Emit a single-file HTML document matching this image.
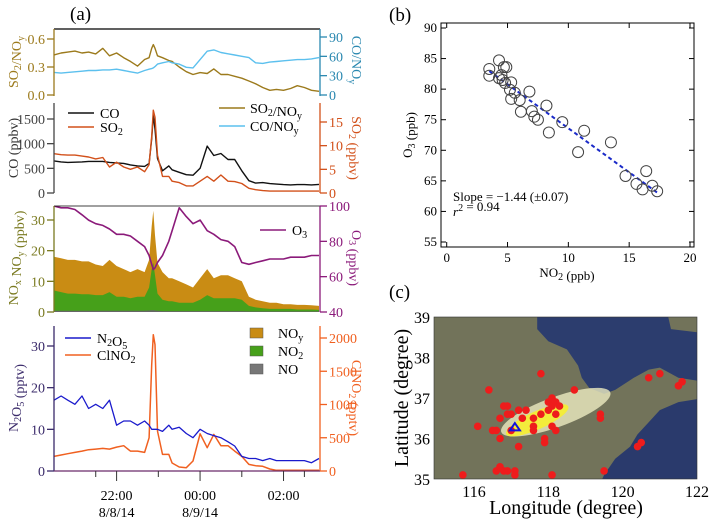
<!DOCTYPE html>
<html><head><meta charset="utf-8"><style>
body{margin:0;background:#fff}
svg{display:block;font-family:"Liberation Serif",serif}
</style></head><body>
<svg id="fig" width="712" height="523" viewBox="0 0 712 523" xmlns="http://www.w3.org/2000/svg">
<g id="pa"></g>
<g id="pb"></g>
<g id="pc"></g>
</svg>
<script>
// ---- Panel (a) data ----
const times=[20.5,20.67,20.83,21.0,21.17,21.33,21.5,21.67,21.83,22.0,22.17,22.33,22.5,22.67,22.78,22.84,22.88,22.92,22.98,23.1,23.25,23.33,23.5,23.67,23.83,24.0,24.17,24.33,24.5,24.67,24.83,25.0,25.17,25.33,25.5,25.67,25.83,26.0,26.17,26.33,26.5,26.67,26.85];
const so2noy=[0.43,0.45,0.46,0.47,0.45,0.46,0.44,0.50,0.42,0.45,0.40,0.36,0.31,0.38,0.40,0.50,0.54,0.50,0.42,0.40,0.37,0.36,0.30,0.25,0.22,0.24,0.23,0.28,0.22,0.22,0.20,0.18,0.15,0.12,0.08,0.05,0.06,0.05,0.07,0.10,0.08,0.05,0.04];
const conoy=[35,34,35,36,37,38,38,39,39,40,38,36,34,38,40,41,42,44,48,50,52,50,48,43,42,55,68,70,66,64,62,60,58,50,49,51,52,53,54,55,55,56,58];
const coVals=[650,630,620,625,630,640,640,640,620,610,600,570,550,540,600,1100,1580,1300,700,450,550,470,420,370,360,500,950,760,800,680,680,450,250,200,210,190,180,170,165,170,170,165,175];
const so2Vals=[8.3,8.1,8.0,8.0,7.8,7.6,7.2,7.5,5.5,6.5,5.5,5.0,5.5,4.5,6,12,17.5,16,8,3.5,3.5,2.5,2.2,1.5,1.5,2.5,3.5,2.5,3.8,2.5,2.4,2,1,0.7,0.5,0.4,0.4,0.4,0.4,0.4,0.4,0.4,0.4];
const o3Vals=[100,99,99,98,95,92,90,89,87,84,84,83,80,77,72,67,64,65,68,72,80,86,99,94,90,92,86,84,81,80,77,68,67,68,69,70,70,70,71,71,71,72,72];
const noyVals=[18,17.5,17,17,16.5,16.5,15.5,15,17,15,14,13,14,13,17,28,33,25,16,13,11,11,10,9,8,11,14,11,12,12,11,10,5,4,3.5,3,3,2.5,2.5,2.3,2.3,2.2,2];
const no2Vals=[7,6.5,6,6,5.8,5.8,5.5,5.5,6.5,5,5,4.5,5,5,8,14,16,12,6,4,3.5,3.5,3,3,3,4,5.5,4.5,4.5,4.5,4.5,4,2,1.5,1.2,1,1,1,1,0.8,0.8,0.8,0.7];
const noVals=[0.4,0.4,0.4,0.4,0.4,0.4,0.4,0.4,0.4,0.4,0.4,0.4,0.4,0.4,0.5,0.6,0.6,0.5,0.4,0.3,0.3,0.3,0.3,0.3,0.3,0.3,0.3,0.3,0.3,0.3,0.3,0.3,0.2,0.2,0.2,0.2,0.2,0.2,0.2,0.2,0.2,0.2,0.2];
const n2o5Vals=[17,18,17,16,18,15,16,15,17,11,12,12,11,12,11,10,10,10,10,9.5,11,10,10.5,9,8,10,9,8.5,8,7,6,3.5,3,3,2.5,3,2.5,2.5,2.5,2.5,2.5,2,3];
const clno2Vals=[220,240,260,280,300,320,330,340,330,360,380,300,300,280,500,1600,2050,1900,600,250,250,120,60,50,150,560,350,550,380,380,300,220,100,80,70,30,10,10,10,10,10,10,10];
const timeTicks=[22,24,26];
const timeLabels=["22:00","00:00","02:00"];
const dateLabels=["8/8/14","8/9/14",""];
// ---- Panel (b) data ----
const no2Pts=[3.5,3.5,4.3,4.3,4.5,4.6,4.7,4.9,4.8,5.2,5.3,5.3,5.6,6.0,6.1,6.8,7.0,7.2,7.5,8.2,8.4,9.5,10.8,11.3,13.5,14.7,15.6,16.1,16.4,16.9,17.3];
const o3Pts=[83.3,82.2,84.7,81.8,82.3,81.5,83.6,83.6,81.0,79.9,81.1,78.4,79.4,78.2,76.3,79.6,76.4,75.5,75.0,77.3,72.9,74.6,69.7,73.2,71.3,65.8,64.5,63.6,66.6,64.2,63.3];
const fitSlope=-1.44, fitIntercept=88.0, fitRange=[3.5,17.3];
const bxTicks=[0,5,10,15,20];
const byTicks=[55,60,65,70,75,80,85,90];
// ---- Panel (c) data ----
const siteLon=[115.7,116.1,116.4,116.5,116.6,116.6,116.7,116.7,116.7,116.8,116.8,116.9,116.9,116.9,117.0,117.0,117.1,117.1,117.2,117.2,117.3,117.4,117.6,117.6,117.6,117.8,117.8,117.9,117.9,118.0,118.0,118.1,118.1,118.1,118.2,118.2,118.2,118.1,118.3,118.7,119.4,119.4,119.5,120.4,120.5,120.7,121.0,121.5,121.6];
const siteLat=[35.1,36.3,37.2,36.2,36.2,35.2,35.3,36.5,36.0,36.8,35.2,36.8,36.6,35.2,36.6,36.2,35.2,35.1,36.7,35.8,36.5,36.7,36.5,36.3,36.2,37.6,36.6,36.0,35.9,36.9,36.7,37.0,36.8,36.3,36.9,36.6,36.2,35.1,36.8,37.2,36.6,36.5,35.2,35.8,35.9,37.5,37.6,37.3,37.4];
const lonTicks=[116,118,120,122];
const latTicks=[35,36,37,38,39];

const NS="http://www.w3.org/2000/svg";
function el(p,tag,at,txt){const e=document.createElementNS(NS,tag);for(const k in at)e.setAttribute(k,at[k]);if(txt!==undefined)e.textContent=txt;p.appendChild(e);return e;}
function lin(d0,d1,r0,r1){return v=>r0+(v-d0)*(r1-r0)/(d1-d0);}
const pa=document.getElementById('pa'),pb=document.getElementById('pb'),pc=document.getElementById('pc');
const X=lin(20.5,26.85,54,319);
function poly(g,vals,ys,col,name,w){const pts=times.map((t,i)=>X(t).toFixed(1)+','+ys(vals[i]).toFixed(1)).join(' ');
 const e=el(g,'polyline',{points:pts,fill:'none',stroke:col,'stroke-width':w||1.4,'stroke-linejoin':'round'});
 
 return e;}
function area(g,vals,ys,col,name){let pts=times.map((t,i)=>X(t).toFixed(1)+','+ys(vals[i]).toFixed(1));pts.push(X(times[times.length-1])+','+ys(0),X(times[0])+','+ys(0));
 const e=el(g,'polygon',{points:pts.join(' '),fill:col});
 
 }
function yaxis(g,x,y0,y1,ticks,ys,col,side,name,fmt){const a=el(g,'g',{});
 
 
 el(a,'line',{x1:x,x2:x,y1:y0,y2:y1,stroke:col,'stroke-width':1.3});
 ticks.forEach(v=>{const y=ys(v);const d=side<0?-7:7;el(a,'line',{x1:x,x2:x+d,y1:y,y2:y,stroke:col,'stroke-width':1.3});
  el(a,'text',{x:x+(side<0?-9:9),y:y+5,'text-anchor':side<0?'end':'start','font-size':14,fill:col},fmt?fmt(v):v);});}
function vtitle(g,x,y,html,col,rot,name,fs){const t=el(g,'text',{x:0,y:0,'font-size':fs||14,fill:col,'text-anchor':'middle',transform:`translate(${x},${y}) rotate(${rot})`});t.innerHTML=html;
 
 }
const sub=s=>`<tspan dy="3" font-size="10">${s}</tspan><tspan dy="-3"></tspan>`;
const sup=s=>`<tspan dy="-5" font-size="10">${s}</tspan><tspan dy="5"></tspan>`;

el(pa,'text',{x:70,y:20,'font-size':19},'(a)');
// sub 1
const g1=el(pa,'g',{});
const Y1=lin(0,0.6,95,39),Y1r=lin(0,90,95,37);
el(g1,'line',{x1:54,x2:320,y1:29,y2:29,stroke:'#000','stroke-width':1.2});
poly(g1,so2noy,Y1,'#9c7a1c','so2-noy-line');
poly(g1,conoy,Y1r,'#5cc0ee','co-noy-line');
yaxis(g1,54,29,96,[0,0.3,0.6],Y1,'#9c7a1c',-1,'so2-noy-axis',v=>v.toFixed(1));
yaxis(g1,320,29,96,[0,30,60,90],Y1r,'#2a88b0',1,'co-noy-axis');
vtitle(g1,18,62,'SO'+sub('2')+'/NO'+sub('y'),'#9c7a1c',-90,'so2-noy-title');
vtitle(g1,352,60,'CO/NO'+sub('y'),'#2a88b0',90,'co-noy-title');
// sub 2
const g2=el(pa,'g',{});
const Y2=lin(0,1500,193,119),Y2r=lin(0,15,193,122);
poly(g2,coVals,Y2,'#111','co-line');
poly(g2,so2Vals,Y2r,'#d2501a','so2-line');
yaxis(g2,54,103,193,[0,500,1000,1500],Y2,'#444',-1,'co-axis');
yaxis(g2,320,103,193,[0,5,10,15],Y2r,'#d2501a',1,'so2-axis');
vtitle(g2,18,148,'CO (ppbv)','#333',-90,'co-title');
vtitle(g2,352,148,'SO'+sub('2')+' (ppbv)','#d2501a',90,'so2-title');
el(g2,'line',{x1:68,x2:94,y1:113,y2:113,stroke:'#111','stroke-width':1.6});
el(g2,'text',{x:100,y:118,'font-size':14},'CO');
el(g2,'line',{x1:68,x2:94,y1:127,y2:127,stroke:'#d2501a','stroke-width':1.6});
el(g2,'text',{x:100,y:132,'font-size':14}).innerHTML='SO'+sub('2');
el(g2,'line',{x1:219,x2:245,y1:108,y2:108,stroke:'#9c7a1c','stroke-width':1.6});
el(g2,'text',{x:250,y:113,'font-size':14}).innerHTML='SO'+sub('2')+'/NO'+sub('y');
el(g2,'line',{x1:219,x2:245,y1:126,y2:126,stroke:'#5cc0ee','stroke-width':1.6});
el(g2,'text',{x:250,y:131,'font-size':14}).innerHTML='CO/NO'+sub('y');
// sub 3
const g3=el(pa,'g',{});
const Y3=lin(0,30,312,220),Y3r=lin(40,100,312,206);
const cp=el(g3,'clipPath',{id:'c3'});el(cp,'rect',{x:54,y:206,width:266,height:107});
const g3c=el(g3,'g',{'clip-path':'url(#c3)'});
area(g3c,noyVals,Y3,'#c98c14','noy-area');
area(g3c,no2Vals,Y3,'#46a01a','no2-area');
area(g3c,noVals,Y3,'#666','no-area');
poly(g3c,o3Vals,Y3r,'#8b1a7a','o3-line',1.6);
el(g3,'line',{x1:54,x2:320,y1:206,y2:206,stroke:'#000','stroke-width':0.8});
yaxis(g3,54,206,312,[0,10,20,30],Y3,'#7a7a20',-1,'nox-axis');
yaxis(g3,320,206,312,[40,60,80,100],Y3r,'#8b1a7a',1,'o3-axis');
vtitle(g3,18,258,'NO'+sub('x')+' NO'+sub('y')+' (ppbv)','#7a7a20',-90,'nox-title');
vtitle(g3,352,258,'O'+sub('3')+' (ppbv)','#8b1a7a',90,'o3-title');
el(g3,'line',{x1:260,x2:286,y1:230,y2:230,stroke:'#8b1a7a','stroke-width':1.6});
el(g3,'text',{x:292,y:235,'font-size':14}).innerHTML='O'+sub('3');
// sub 4
const g4=el(pa,'g',{});
const Y4=lin(0,30,471,346),Y4r=lin(0,2000,471,338);
poly(g4,clno2Vals,Y4r,'#f06020','clno2-line',1.5);
poly(g4,n2o5Vals,Y4,'#1a1acc','n2o5-line',1.3);
yaxis(g4,54,326,471,[0,10,20,30],Y4,'#3a2a6a',-1,'n2o5-axis');
yaxis(g4,320,326,471,[0,500,1000,1500,2000],Y4r,'#f06020',1,'clno2-axis');
vtitle(g4,18,398,'N'+sub('2')+'O'+sub('5')+' (pptv)','#3a2a6a',-90,'n2o5-title');
vtitle(g4,352,398,'ClNO'+sub('2')+' (pptv)','#f06020',90,'clno2-title');
el(g4,'line',{x1:54,x2:320,y1:471,y2:471,stroke:'#6a2a6a','stroke-width':1.2});
[21.5,23,25,26.5].forEach(t=>el(g4,'line',{x1:X(t),x2:X(t),y1:471,y2:477,stroke:'#333'}));
timeTicks.forEach((t,i)=>{el(g4,'line',{x1:X(t),x2:X(t),y1:471,y2:481,stroke:'#333'});
 el(g4,'text',{x:X(t),y:500,'text-anchor':'middle','font-size':14},timeLabels[i]);
 el(g4,'text',{x:X(t),y:517,'text-anchor':'middle','font-size':14},dateLabels[i]);});
el(g4,'line',{x1:65,x2:91,y1:338,y2:338,stroke:'#1a1acc','stroke-width':1.6});
el(g4,'text',{x:97,y:343,'font-size':14}).innerHTML='N'+sub('2')+'O'+sub('5');
el(g4,'line',{x1:65,x2:91,y1:355,y2:355,stroke:'#f06020','stroke-width':1.6});
el(g4,'text',{x:97,y:360,'font-size':14}).innerHTML='ClNO'+sub('2');
[['#c98c14','NO'+sub('y'),328],['#46a01a','NO'+sub('2'),346],['#777','NO',364]].forEach(r=>{
 el(g4,'rect',{x:250,y:r[2],width:13,height:10,fill:r[0],stroke:'#555','stroke-width':0.5});
 el(g4,'text',{x:278,y:r[2]+10,'font-size':14}).innerHTML=r[1];});

// ---- Panel (b) ----
const BX=lin(0,20,446.7,690),BY=lin(55,90,242,28);
el(pb,'text',{x:389,y:21,'font-size':19},'(b)');
el(pb,'rect',{x:441,y:23,width:253,height:224,fill:'none',stroke:'#000','stroke-width':1});
bxTicks.forEach(v=>{el(pb,'line',{x1:BX(v),x2:BX(v),y1:247,y2:242,stroke:'#000'});el(pb,'line',{x1:BX(v),x2:BX(v),y1:23,y2:28,stroke:'#000'});
 el(pb,'text',{x:BX(v),y:262,'text-anchor':'middle','font-size':13},v);});
byTicks.forEach(v=>{el(pb,'line',{x1:441,x2:446,y1:BY(v),y2:BY(v),stroke:'#000'});el(pb,'line',{x1:694,x2:689,y1:BY(v),y2:BY(v),stroke:'#000'});
 el(pb,'text',{x:437,y:BY(v)+4,'text-anchor':'end','font-size':13},v);});
vtitle(pb,412,135,'O'+sub('3')+' (ppb)','#000',-90,'o3-ppb-title',13);
{const t=el(pb,'text',{x:567,y:277,'text-anchor':'middle','font-size':13});t.innerHTML='NO'+sub('2')+' (ppb)';
 
 }
const fl=el(pb,'line',{x1:BX(fitRange[0]),y1:BY(fitIntercept+fitSlope*fitRange[0]),x2:BX(fitRange[1]),y2:BY(fitIntercept+fitSlope*fitRange[1]),stroke:'#1a2ac8','stroke-width':2,'stroke-dasharray':'4,3'});


no2Pts.forEach((v,i)=>{const c=el(pb,'circle',{cx:BX(v),cy:BY(o3Pts[i]),r:5.5,fill:'none',stroke:'#444','stroke-width':1});
 
 });
el(pb,'text',{x:453,y:201,'font-size':13},'Slope = \u22121.44 (\u00b10.07)');
el(pb,'text',{x:453,y:216,'font-size':13}).innerHTML='<tspan font-style="italic">r</tspan>'+sup('2')+' = 0.94';

// ---- Panel (c) ----
const MX=lin(116,122,474,697),MY=lin(35,39,479,317);
el(pc,'text',{x:389,y:298,'font-size':19},'(c)');
const mc=el(pc,'clipPath',{id:'mc'});el(mc,'rect',{x:434,y:317,width:263,height:162});
const mg=el(pc,'g',{'clip-path':'url(#mc)'});


el(mg,'rect',{x:434,y:317,width:263,height:162,fill:'#72735a'});
const P=a=>a.map(p=>MX(p[0]).toFixed(1)+','+MY(p[1]).toFixed(1)).join(' ');
el(mg,'polygon',{points:P([[117.7,39.1],[117.7,38.7],[118.0,38.4],[118.5,38.2],[118.8,37.8],[118.9,37.5],[119.1,37.25],[119.5,37.1],[119.8,37.2],[120.3,37.5],[120.7,37.7],[121.0,37.75],[121.5,37.5],[122.2,37.4],[122.2,38.6],[121.3,38.7],[121.2,39.1]]),fill:'#2c3d6e'});
el(mg,'polygon',{points:P([[122.2,37.0],[121.5,36.9],[121.0,36.7],[120.7,36.4],[120.4,36.1],[120.2,35.8],[119.8,35.5],[119.5,35.1],[119.4,34.9],[122.2,34.9]]),fill:'#2a3a6c'});
const pl=el(mg,'ellipse',{cx:MX(118.2),cy:MY(36.65),rx:58,ry:15,fill:'#ecebc0',opacity:0.8,transform:`rotate(-20 ${MX(118.2)} ${MY(36.65)})`});


el(mg,'ellipse',{cx:MX(117.7),cy:MY(36.45),rx:34,ry:9,fill:'#f6ee30',opacity:0.9,transform:`rotate(-24 ${MX(117.7)} ${MY(36.45)})`});
siteLon.forEach((v,i)=>{const c=el(mg,'circle',{cx:MX(v),cy:MY(siteLat[i]),r:3.8,fill:'#ee1c1c'});
 
 });
const tri=el(mg,'polygon',{points:`${MX(117.1)},${MY(36.38)} ${MX(117.1)-5},${MY(36.2)} ${MX(117.1)+5},${MY(36.2)}`,fill:'none',stroke:'#1010e0','stroke-width':2});


el(pc,'rect',{x:434,y:317,width:263,height:162,fill:'none',stroke:'#333','stroke-width':0.6});
latTicks.forEach(v=>el(pc,'text',{x:430,y:MY(v)+6,'text-anchor':'end','font-size':16},v));
lonTicks.forEach(v=>el(pc,'text',{x:MX(v),y:497,'text-anchor':'middle','font-size':16},v));
vtitle(pc,408,398,'Latitude (degree)','#000',-90,'latitude-title',20);
{const t=el(pc,'text',{x:566,y:514,'text-anchor':'middle','font-size':20},'Longitude (degree)');
 
 }
</script>
</body></html>
